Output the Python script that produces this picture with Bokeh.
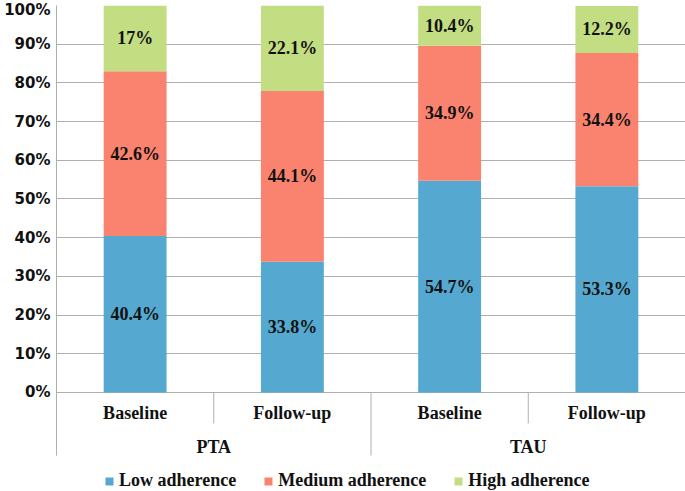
from bokeh.plotting import figure
from bokeh.models import FactorRange, ColumnDataSource, FixedTicker, Legend, LegendItem, Range1d
from bokeh.core.properties import value
from bokeh.embed import file_html
from bokeh.resources import INLINE

# ---- data ----
groups = ["PTA", "PTA", "TAU", "TAU"]
phases = ["Baseline", "Follow-up", "Baseline", "Follow-up"]
low = [40.4, 33.8, 54.7, 53.3]
medium = [42.6, 44.1, 34.9, 34.4]
high = [17.0, 22.1, 10.4, 12.2]
series_names = ["Low adherence", "Medium adherence", "High adherence"]
series_keys = ["low", "medium", "high"]
colors = ["#55A9D0", "#F9836F", "#C3DD83"]
y_ticks = [0, 10, 20, 30, 40, 50, 60, 70, 80, 90, 100]
y_tick_labels = ["0%", "10%", "20%", "30%", "40%", "50%", "60%", "70%", "80%", "90%", "100%"]

factors = list(zip(groups, phases))
group_names = list(dict.fromkeys(groups))
SERIF = "Liberation Serif"
GRID = "#b0b0b0"
INK = "#111111"

src = ColumnDataSource(dict(x=factors, low=low, medium=medium, high=high))

x_range = FactorRange(*factors, range_padding=0, factor_padding=0, group_padding=0)
p = figure(x_range=x_range, y_range=Range1d(-25.6, 100), width=685, height=491,
           output_backend="svg", toolbar_location=None,
           min_border_top=5, min_border_right=0, min_border_left=56, min_border_bottom=0)
p.outline_line_color = None
p.background_fill_color = "white"

renderers = p.vbar_stack(series_keys, x="x", width=0.4, source=src, color=colors,
                         line_color=None)

# data labels centered in each segment
cum = [0.0] * len(factors)
for key, vals in zip(series_keys, [low, medium, high]):
    mids = [c + v / 2 for c, v in zip(cum, vals)]
    cum = [c + v for c, v in zip(cum, vals)]
    labels = [f"{v:g}%" for v in vals]
    p.text(x=factors, y=mids, text=labels, text_align="center", text_baseline="middle",
           text_font=value(SERIF), text_font_style="bold", text_font_size="18px", text_color=INK)

# category axis drawn Excel-style: dividers + two label rows
inner_x = [(g, ph, 0.5) for g, ph in factors if ph == phases[0]]
outer_x = [(g, ph, -0.5) for g, ph in factors if ph == phases[0]]
p.segment(x0=inner_x, x1=inner_x, y0=[0] * len(inner_x), y1=[-8.0] * len(inner_x),
          line_color=GRID, line_width=1)
p.segment(x0=outer_x, x1=outer_x, y0=[0] * len(outer_x), y1=[-16.3] * len(outer_x),
          line_color=GRID, line_width=1)
p.text(x=factors, y=[-5.4] * len(factors), text=phases, text_align="center",
       text_baseline="middle", text_font=value(SERIF), text_font_style="bold",
       text_font_size="18px", text_color=INK)
p.text(x=group_names, y=[-14.0] * len(group_names), text=group_names, text_align="center",
       text_baseline="middle", text_font=value(SERIF), text_font_style="bold",
       text_font_size="18px", text_color=INK)

# y axis
p.yaxis.ticker = FixedTicker(ticks=y_ticks)
p.yaxis.bounds = (-16.3, 100)
p.yaxis.major_label_overrides = {t: l for t, l in zip(y_ticks, y_tick_labels)}
p.yaxis.major_label_text_font = "DejaVu Sans"
p.yaxis.major_label_text_font_style = "bold"
p.yaxis.major_label_text_font_size = "15px"
p.yaxis.major_label_text_color = INK
p.yaxis.major_label_standoff = 6
p.yaxis.major_tick_out = 0
p.yaxis.major_tick_in = 0
p.yaxis.major_tick_line_color = None
p.yaxis.minor_tick_line_color = None
p.yaxis.axis_line_color = GRID

p.ygrid.ticker = FixedTicker(ticks=y_ticks)
p.ygrid.grid_line_color = GRID
p.xgrid.grid_line_color = None
p.xaxis.visible = False

legend = Legend(items=[LegendItem(label=n, renderers=[r]) for n, r in zip(series_names, renderers)],
                orientation="horizontal", location=(48, 0),
                label_text_font=SERIF, label_text_font_style="bold", label_text_font_size="18px",
                label_text_color=INK, glyph_width=10, glyph_height=10, label_standoff=5,
                spacing=27, padding=0, margin=0, border_line_color=None,
                background_fill_alpha=0)
p.add_layout(legend)

open("out.html", "w").write(file_html(p, INLINE))
